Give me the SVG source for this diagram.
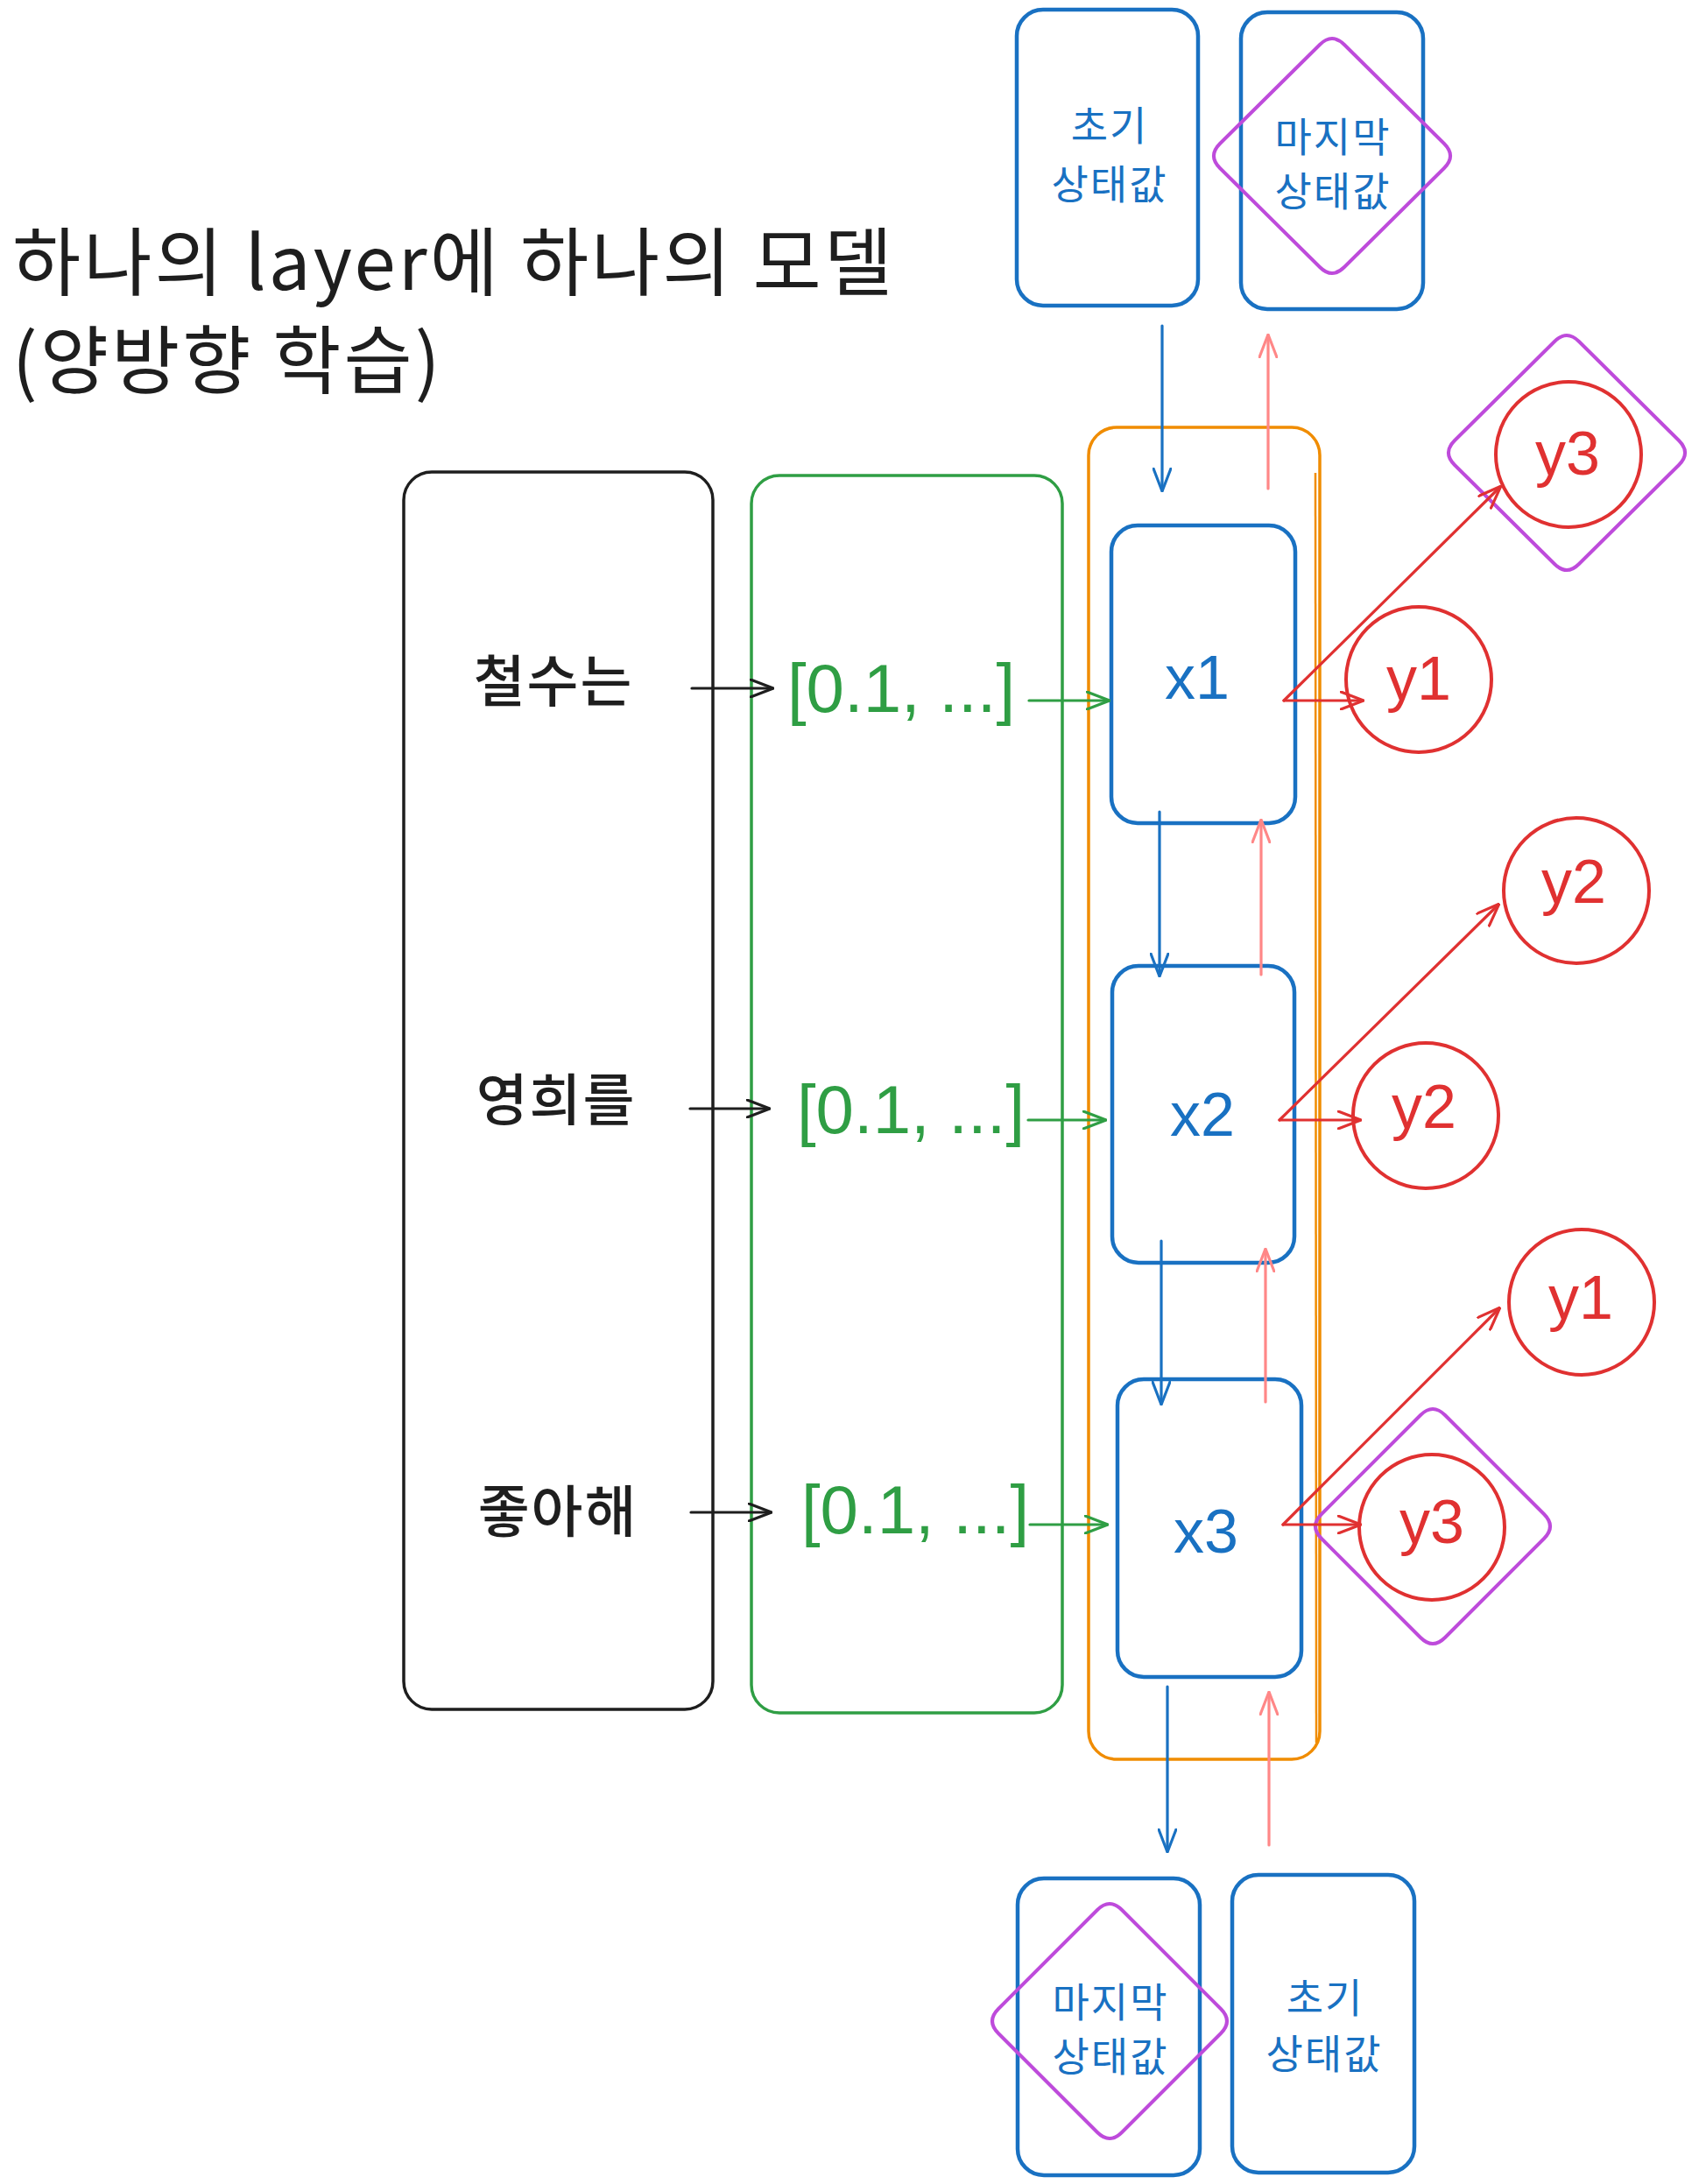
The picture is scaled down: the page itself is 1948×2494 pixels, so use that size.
<svg xmlns="http://www.w3.org/2000/svg" width="1948" height="2494" viewBox="0 0 1948 2494">
<defs>
<style>
.kr{font-family:"Noto Sans CJK KR","Noto Sans",sans-serif}
.lat{font-family:"Liberation Sans",Arial,sans-serif}
.box{fill:none;stroke-linejoin:round}
.bk{stroke:#1e1e1e;stroke-width:3.5}
.gr{stroke:#2f9e44;stroke-width:3.5}
.or{stroke:#f08c00;stroke-width:3.5}
.bl{stroke:#1971c2;stroke-width:4.5}
.pu{fill:none;stroke:#be4bdb;stroke-width:4}
.rc{fill:none;stroke:#e03131;stroke-width:4}
.c{fill:none;stroke-width:3.2;stroke-linecap:round}
.tb{fill:#1971c2}
.tr{fill:#e03131}
.tg{fill:#2f9e44}
.tk{fill:#1e1e1e}
</style>
<marker id="ak" viewBox="0 0 28 22" refX="26" refY="11" markerWidth="28" markerHeight="22" markerUnits="userSpaceOnUse" orient="auto"><path d="M1,1 L27,11 L1,21" fill="none" stroke="#1e1e1e" stroke-width="3.2" stroke-linecap="round" stroke-linejoin="round"/></marker>
<marker id="ag" viewBox="0 0 28 22" refX="26" refY="11" markerWidth="28" markerHeight="22" markerUnits="userSpaceOnUse" orient="auto"><path d="M1,1 L27,11 L1,21" fill="none" stroke="#2f9e44" stroke-width="3.2" stroke-linecap="round" stroke-linejoin="round"/></marker>
<marker id="ab" viewBox="0 0 28 22" refX="26" refY="11" markerWidth="28" markerHeight="22" markerUnits="userSpaceOnUse" orient="auto"><path d="M1,1 L27,11 L1,21" fill="none" stroke="#1971c2" stroke-width="3.2" stroke-linecap="round" stroke-linejoin="round"/></marker>
<marker id="ap" viewBox="0 0 28 22" refX="26" refY="11" markerWidth="28" markerHeight="22" markerUnits="userSpaceOnUse" orient="auto"><path d="M1,1 L27,11 L1,21" fill="none" stroke="#ff8787" stroke-width="3.2" stroke-linecap="round" stroke-linejoin="round"/></marker>
<marker id="ar" viewBox="0 0 28 22" refX="26" refY="11" markerWidth="28" markerHeight="22" markerUnits="userSpaceOnUse" orient="auto"><path d="M1,1 L27,11 L1,21" fill="none" stroke="#e03131" stroke-width="3.2" stroke-linecap="round" stroke-linejoin="round"/></marker>
</defs>
<rect width="1948" height="2494" fill="#ffffff"/>

<g id="title" class="kr tk" font-size="85" letter-spacing="3">
<text x="14" y="331">하나의 layer에 하나의 모델</text>
<text x="14" y="443">(양방향 학습)</text>
</g>

<g id="words">
<rect class="box bk" x="461" y="539" width="353" height="1413" rx="32"/>
<g class="kr tk" font-size="64" font-weight="500" letter-spacing="2" text-anchor="middle">
<text x="632" y="801">철수는</text>
<text x="635" y="1279">영희를</text>
<text x="637" y="1749">좋아해</text>
</g>
</g>

<g id="embeddings">
<rect class="box gr" x="858" y="543" width="355" height="1413" rx="32"/>
<g class="lat tg" font-size="78" text-anchor="middle">
<text x="1029" y="813">[0.1, ...]</text>
<text x="1040" y="1294">[0.1, ...]</text>
<text x="1045" y="1751">[0.1, ...]</text>
</g>
</g>

<g id="layer">
<rect class="box or" x="1243" y="488" width="264" height="1521" rx="32"/>
<path d="M1502,540 L1503,1990" fill="none" stroke="#f08c00" stroke-width="2.5"/>
</g>

<g id="x1">
<rect class="box bl" x="1269" y="600" width="210" height="340" rx="30"/>
<text class="lat tb" x="1367" y="798" font-size="70" text-anchor="middle">x1</text>
</g>
<g id="x2">
<rect class="box bl" x="1270" y="1103" width="208" height="339" rx="30"/>
<text class="lat tb" x="1373" y="1297" font-size="70" text-anchor="middle">x2</text>
</g>
<g id="x3">
<rect class="box bl" x="1276" y="1575" width="210" height="340" rx="30"/>
<text class="lat tb" x="1377" y="1773" font-size="70" text-anchor="middle">x3</text>
</g>

<g id="init-top">
<rect class="box bl" x="1161" y="11" width="207" height="338" rx="30"/>
<g class="kr tb" font-size="46" letter-spacing="2" text-anchor="middle">
<text x="1267" y="160">초기</text>
<text x="1267" y="227">상태값</text>
</g>
</g>
<g id="last-top">
<rect class="box bl" x="1417" y="14" width="208" height="339" rx="30"/>
<path class="pu" d="M1535,51 L1649,164 Q1663,178 1649,192 L1535,305 Q1521,319 1507,305 L1393,192 Q1379,178 1393,164 L1507,51 Q1521,37 1535,51 Z"/>
<g class="kr tb" font-size="46" letter-spacing="2" text-anchor="middle">
<text x="1522" y="173">마지막</text>
<text x="1522" y="235">상태값</text>
</g>
</g>

<g id="last-bottom">
<rect class="box bl" x="1162" y="2145" width="208" height="339" rx="30"/>
<path class="pu" d="M1281,2181 L1394,2294 Q1408,2308 1394,2322 L1281,2435 Q1267,2449 1253,2435 L1140,2322 Q1126,2308 1140,2294 L1253,2181 Q1267,2167 1281,2181 Z"/>
<g class="kr tb" font-size="46" letter-spacing="2" text-anchor="middle">
<text x="1268" y="2303">마지막</text>
<text x="1268" y="2365">상태값</text>
</g>
</g>
<g id="init-bottom">
<rect class="box bl" x="1407" y="2141" width="208" height="340" rx="30"/>
<g class="kr tb" font-size="46" letter-spacing="2" text-anchor="middle">
<text x="1513" y="2298">초기</text>
<text x="1512" y="2362">상태값</text>
</g>
</g>

<g id="y3-top">
<path class="pu" d="M1803,390 L1917,503 Q1931,517 1917,531 L1803,644 Q1789,658 1775,644 L1661,531 Q1647,517 1661,503 L1775,390 Q1789,376 1803,390 Z"/>
<circle class="rc" cx="1791" cy="519" r="83"/>
<text class="lat tr" x="1790" y="542" font-size="70" text-anchor="middle">y3</text>
</g>
<g id="y1-near">
<circle class="rc" cx="1620" cy="776" r="83"/>
<text class="lat tr" x="1620" y="799" font-size="70" text-anchor="middle">y1</text>
</g>
<g id="y2-far">
<circle class="rc" cx="1800" cy="1017" r="83"/>
<text class="lat tr" x="1797" y="1031" font-size="70" text-anchor="middle">y2</text>
</g>
<g id="y2-near">
<circle class="rc" cx="1628" cy="1274" r="83"/>
<text class="lat tr" x="1626" y="1288" font-size="70" text-anchor="middle">y2</text>
</g>
<g id="y1-far">
<circle class="rc" cx="1806" cy="1487" r="83"/>
<text class="lat tr" x="1805" y="1506" font-size="70" text-anchor="middle">y1</text>
</g>
<g id="y3-bottom">
<path class="pu" d="M1650,1616 L1763,1729 Q1777,1743 1763,1757 L1650,1870 Q1636,1884 1622,1870 L1509,1757 Q1495,1743 1509,1729 L1622,1616 Q1636,1602 1650,1616 Z"/>
<circle class="rc" cx="1635" cy="1744" r="83"/>
<text class="lat tr" x="1635" y="1762" font-size="70" text-anchor="middle">y3</text>
</g>

<g id="connectors">
<g stroke="#1e1e1e" class="c">
<path d="M790,786 L882,786" marker-end="url(#ak)"/>
<path d="M788,1266 L878,1266" marker-end="url(#ak)"/>
<path d="M789,1727 L880,1727" marker-end="url(#ak)"/>
</g>
<g stroke="#2f9e44" class="c">
<path d="M1175,800 L1266,800" marker-end="url(#ag)"/>
<path d="M1174,1279 L1262,1279" marker-end="url(#ag)"/>
<path d="M1176,1741 L1264,1741" marker-end="url(#ag)"/>
</g>
<g stroke="#1971c2" class="c">
<path d="M1327,372 L1327,560" marker-end="url(#ab)"/>
<path d="M1324,927 L1324,1114" marker-end="url(#ab)"/>
<path d="M1326,1417 L1326,1603" marker-end="url(#ab)"/>
<path d="M1333,1926 L1333,2114" marker-end="url(#ab)"/>
</g>
<g stroke="#ff8787" class="c">
<path d="M1448,558 L1448,383" marker-end="url(#ap)"/>
<path d="M1440,1113 L1440,937" marker-end="url(#ap)"/>
<path d="M1445,1601 L1445,1427" marker-end="url(#ap)"/>
<path d="M1449,2107 L1449,1933" marker-end="url(#ap)"/>
</g>
<g stroke="#e03131" class="c">
<path d="M1466,800 L1556,800" marker-end="url(#ar)"/>
<path d="M1466,800 L1713,556" marker-end="url(#ar)"/>
<path d="M1461,1279 L1553,1279" marker-end="url(#ar)"/>
<path d="M1461,1279 L1711,1033" marker-end="url(#ar)"/>
<path d="M1465,1741 L1553,1741" marker-end="url(#ar)"/>
<path d="M1465,1741 L1712,1494" marker-end="url(#ar)"/>
</g>
</g>
</svg>
